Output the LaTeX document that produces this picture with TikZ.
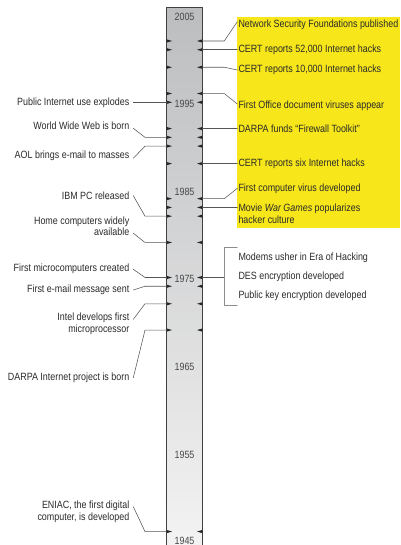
\documentclass[tikz,border=0pt]{standalone}
\usepackage{fontspec}
\setmainfont{Liberation Sans}[FakeStretch=0.85]
\usepackage{tikz}
\usetikzlibrary{positioning}

\definecolor{hiyellow}{HTML}{F6E61A}
\definecolor{bartop}{HTML}{BCBDBF}
\definecolor{barbot}{HTML}{F3F3F3}
\definecolor{txtgray}{HTML}{2A2A2A}
\definecolor{leadgray}{HTML}{555555}

\begin{document}
\begin{tikzpicture}[
  x=1pt, y=-1pt,
  line cap=round,
  line join=round,
  font=\fontsize{10.5}{11.2}\selectfont,
  event/.style={
    anchor=east,
    align=right,
    inner sep=0pt,
    outer xsep=4pt,
    text=txtgray
  },
  news/.style={
    anchor=west,
    align=left,
    inner sep=0pt,
    outer xsep=1.2pt,
    text=txtgray
  },
  year/.style={
    inner sep=0pt,
    text=black!72
  },
  lead/.style={
    line width=0.55pt,
    draw=leadgray
  },
  bracketline/.style={
    line width=0.55pt,
    draw=black!45
  },
  tickhead/.style={
    fill=black!85
  }
]

\useasboundingbox (0,0) rectangle (400,545);

% =========================================================
% Time bar and highlighted recent years
% =========================================================

\fill[hiyellow] (237.3,17.3) rectangle (400,228.3);

\shade[top color=bartop, bottom color=barbot] (166.7,7.3) rectangle (202.3,545);
\draw[line width=0.7pt, draw=black!75] (166.7,545) -- (166.7,7.3) -- (202.3,7.3) -- (202.3,545);

\foreach \yr in {2005,1995,1985,1975,1965,1955}
  \node[year] (y\yr) at (184.5,{104.1+(1995-\yr)*8.76}) {\yr};
\node[year] (y1945) at (184.5,540.4) {1945};

% ticks on both edges of the bar
\foreach \yr in {2002,2001,1999,1996,1995,1992,1991,1990,1988,1984,1983,1982,1979,1975,1974,1972,1969,1946} {
  \coordinate (L\yr) at (166.7,{102.3+(1995-\yr)*8.76});
  \coordinate (R\yr) at (202.3,{102.3+(1995-\yr)*8.76});
  \fill[tickhead] (L\yr) ++(0,-1.6) -- ++(5.3,1.6) -- ++(-5.3,1.6) -- cycle;
  \fill[tickhead] (R\yr) ++(0,-1.6) -- ++(-5.3,1.6) -- ++(5.3,1.6) -- cycle;
}

% =========================================================
% Left side: computing and Internet milestones
% =========================================================

\node[event] (inet) at (133.3,102.3) {Public Internet use explodes};
\node[event] (www) at (133.3,126) {World Wide Web is born};
\node[event] (aol) at (133.3,155.7) {AOL brings e-mail to masses};
\node[event] (ibm) at (133.3,195.7) {IBM PC released};
\node[event] (home) at (133.3,226.2) {Home computers widely\\available};
\node[event] (micro) at (133.3,268.3) {First microcomputers created};
\node[event] (email) at (133.3,290) {First e-mail message sent};
\node[event] (intel) at (133.3,323.8) {Intel develops first\\microprocessor};
\node[event] (darpa) at (133.3,377.7) {DARPA Internet project is born};
\node[event] (eniac) at (133.3,511.7) {ENIAC, the first digital\\computer, is developed};

\draw[lead] (inet.east) -- (L1995);
\draw[lead] ([yshift=-2.3]www.east) -- ([xshift=-21.7]L1991) -- (L1991);
\draw[lead] ([yshift=-2.6]aol.east) -- ([xshift=-21.7]L1990) -- (L1990);
\draw[lead] (ibm.east) -- ([xshift=-21.7]L1982) -- (L1982);
\draw[lead] ([yshift=-7]home.east) -- ([xshift=-21.7]L1979) -- (L1979);
\draw[lead] ([yshift=-1]micro.east) -- ([xshift=-21.7]L1975) -- (L1975);
\draw[lead] (email.east) -- ([xshift=-21.7]L1974) -- (L1974);
\draw[lead] ([yshift=4.5]intel.east) -- ([xshift=-21.7]L1972) -- (L1972);
\draw[lead] (darpa.east) -- ([xshift=-21.7]L1969) -- (L1969);
\draw[lead] ([yshift=5]eniac.east) -- ([xshift=-21.7]L1946) -- (L1946);

% =========================================================
% Right side: security milestones
% =========================================================

\node[news] (nsf) at (237.3,24.3) {Network Security Foundations published};
\node[news] (cert52) at (237.3,50.2) {CERT reports 52,000 Internet hacks};
\node[news] (cert10) at (237.3,70) {CERT reports 10,000 Internet hacks};
\node[news] (office) at (237.3,106) {First Office document viruses appear};
\node[news] (fwtk) at (237.3,128.8) {DARPA funds ``Firewall Toolkit''};
\node[news] (cert6) at (237.3,163.4) {CERT reports six Internet hacks};
\node[news] (virus) at (237.3,188.3) {First computer virus developed};
\node[news] (movie) at (237.3,213.8) {Movie \textit{War Games} popularizes\\hacker culture};
\node[news] (modems) at (237.3,257.3) {Modems usher in Era of Hacking};
\node[news] (des) at (237.3,276.7) {DES encryption developed};
\node[news] (pubkey) at (237.3,295.3) {Public key encryption developed};

\draw[lead] (R2002) -- ([xshift=22]R2002) -- ([yshift=2.6]nsf.west);
\draw[lead] (R2001) -- (R2001 -| cert52.west);
\draw[lead] (R1999) -- ([xshift=22]R1999) -- (cert10.west);
\draw[lead] (R1996) -- ([xshift=22]R1996) -- ([yshift=2]office.west);
\draw[lead] (R1992) -- (R1992 -| fwtk.west);
\draw[lead] (R1988) -- (R1988 -| cert6.west);
\draw[lead] (R1984) -- ([xshift=22]R1984) -- (virus.west);
\draw[lead] (R1983) -- (R1983 -| movie.west);

% 1975 group
\coordinate (brk) at ([xshift=22]R1975);
\draw[lead] (R1975) -- (brk);
\draw[bracketline] ([yshift=10]modems.west) -| (brk) |- ([yshift=-9.7]pubkey.west);

\end{tikzpicture}
\end{document}
